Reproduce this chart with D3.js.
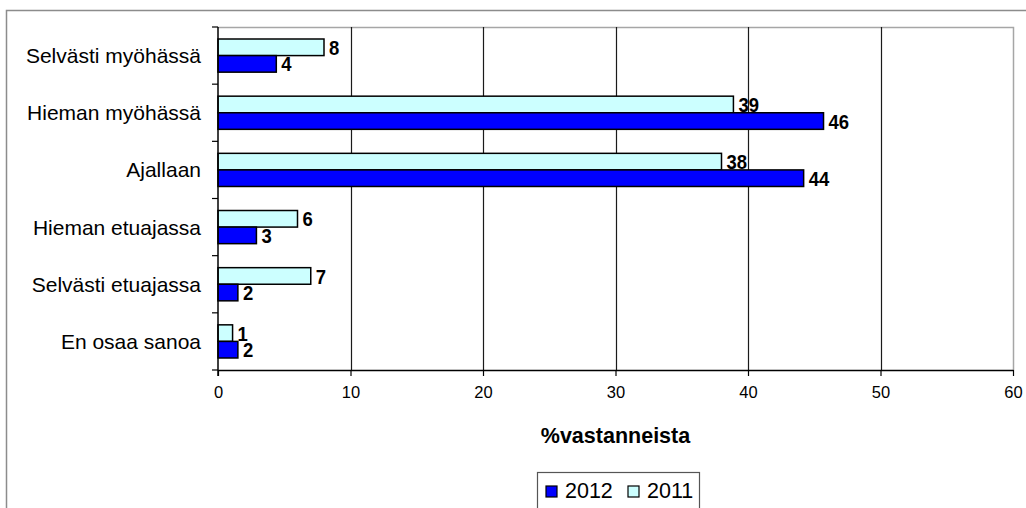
<!DOCTYPE html>
<html>
<head>
<meta charset="utf-8">
<script src="https://cdn.jsdelivr.net/npm/d3@7"></script>
<style>
  html, body { margin: 0; padding: 0; background: #fff; }
  svg { display: block; }
</style>
</head>
<body>
<svg id="chart" width="1026" height="508"></svg>
<script>
const categories = ["Selvästi myöhässä", "Hieman myöhässä", "Ajallaan", "Hieman etuajassa", "Selvästi etuajassa", "En osaa sanoa"];
const seriesNames = ["2011", "2012"];
const values2011 = [8.0, 38.9, 38.0, 6.0, 7.0, 1.1];
const values2012 = [4.4, 45.7, 44.2, 2.9, 1.5, 1.5];
const labels2011 = ["8", "39", "38", "6", "7", "1"];
const labels2012 = ["4", "46", "44", "3", "2", "2"];
const xTicks = [0, 10, 20, 30, 40, 50, 60];
const axisTitle = "%vastanneista";
const legendOrder = ["2012", "2011"];

const colors = { "2012": "#0000FF", "2011": "#CCFFFF" };
const seriesValues = { "2011": values2011, "2012": values2012 };
const seriesLabels = { "2011": labels2011, "2012": labels2012 };

const svg = d3.select("#chart");
const M = { left: 218, right: 1013, top: 27, bottom: 370 };

// outer chart frame (extends past the picture at right/bottom)
svg.append("rect").attr("x", 6.5).attr("y", 10.5).attr("width", 1040).attr("height", 520)
  .attr("fill", "none").attr("stroke", "#8c8c8c").attr("stroke-width", 1.5);

const x = d3.scaleLinear().domain([0, 60]).range([M.left, M.right]);
const y = d3.scaleBand().domain(categories).range([M.top, M.bottom]).paddingInner(0.42).paddingOuter(0.21);
const ySub = d3.scaleBand().domain(seriesNames).range([0, y.bandwidth()]);

// plot area border (top and right)
svg.append("path")
  .attr("d", `M${M.left},${M.top + 0.5}H${M.right + 0.5}V${M.bottom}`)
  .attr("fill", "none").attr("stroke", "#a6a6a6").attr("stroke-width", 1.5);

// gridlines
svg.append("g").selectAll("line").data(xTicks.filter(t => t > 0 && t < 60)).join("line")
  .attr("x1", d => Math.round(x(d)) + 0.5).attr("x2", d => Math.round(x(d)) + 0.5)
  .attr("y1", M.top).attr("y2", M.bottom)
  .attr("stroke", "#1a1a1a").attr("stroke-width", 1.2);

// bars
const groups = svg.append("g").selectAll("g").data(categories).join("g")
  .attr("transform", d => `translate(0,${y(d)})`);
seriesNames.forEach(s => {
  groups.append("rect")
    .attr("x", x(0))
    .attr("y", (d) => ySub(s))
    .attr("width", (d, i) => x(seriesValues[s][i]) - x(0))
    .attr("height", ySub.bandwidth())
    .attr("fill", colors[s]).attr("stroke", "#000").attr("stroke-width", 1.5);
  groups.append("text")
    .attr("transform", (d, i) => `translate(${x(seriesValues[s][i]) + 5},${ySub(s) + ySub.bandwidth() / 2}) scale(0.88,1)`)
    .attr("dy", "0.36em")
    .attr("font-family", "'Liberation Sans', Arial, sans-serif")
    .attr("font-weight", "bold").attr("font-size", 21).attr("fill", "#000")
    .text((d, i) => seriesLabels[s][i]);
});

// x axis
const xAxis = d3.axisBottom(x).tickValues(xTicks).tickSize(6).tickPadding(10).tickSizeOuter(0);
const gx = svg.append("g").attr("transform", `translate(0,${M.bottom})`).call(xAxis);
gx.select(".domain").attr("stroke", "#000").attr("stroke-width", 1.5);
gx.selectAll(".tick line").attr("stroke", "#000").attr("stroke-width", 1.2);
gx.selectAll("text").attr("font-family", "'Liberation Sans', Arial, sans-serif").attr("font-size", 16.5).attr("fill", "#000");

// y axis
const yTickPos = d3.range(categories.length + 1).map(i => M.top + i * y.step());
const gy = svg.append("g");
gy.append("line").attr("x1", M.left).attr("x2", M.left).attr("y1", M.top).attr("y2", M.bottom + 6)
  .attr("stroke", "#000").attr("stroke-width", 1.5);
gy.selectAll("line.tk").data(yTickPos).join("line").attr("class", "tk")
  .attr("x1", M.left - 6).attr("x2", M.left).attr("y1", d => d).attr("y2", d => d)
  .attr("stroke", "#000").attr("stroke-width", 1.2);
gy.selectAll("text").data(categories).join("text")
  .attr("x", 201).attr("y", d => y(d) + y.bandwidth() / 2).attr("dy", "0.36em")
  .attr("text-anchor", "end")
  .attr("font-family", "'Liberation Sans', Arial, sans-serif").attr("font-size", 21).attr("fill", "#000")
  .text(d => d);

// axis title
svg.append("text").attr("x", (M.left + M.right) / 2).attr("y", 443)
  .attr("text-anchor", "middle")
  .attr("font-family", "'Liberation Sans', Arial, sans-serif").attr("font-weight", "bold").attr("font-size", 21.5)
  .attr("fill", "#000").text(axisTitle);

// legend
const lg = svg.append("g");
lg.append("rect").attr("x", 537.5).attr("y", 472.5).attr("width", 162).attr("height", 60)
  .attr("fill", "#fff").attr("stroke", "#555").attr("stroke-width", 1.2);
const legX = [546, 628];
legendOrder.forEach((s, i) => {
  lg.append("rect").attr("x", legX[i]).attr("y", 486).attr("width", 11).attr("height", 11)
    .attr("fill", colors[s]).attr("stroke", "#000").attr("stroke-width", 1.2);
  lg.append("text").attr("x", legX[i] + 19).attr("y", 498)
    .attr("font-family", "'Liberation Sans', Arial, sans-serif").attr("font-size", 21.5).attr("fill", "#000")
    .text(s);
});
</script>
</body>
</html>
